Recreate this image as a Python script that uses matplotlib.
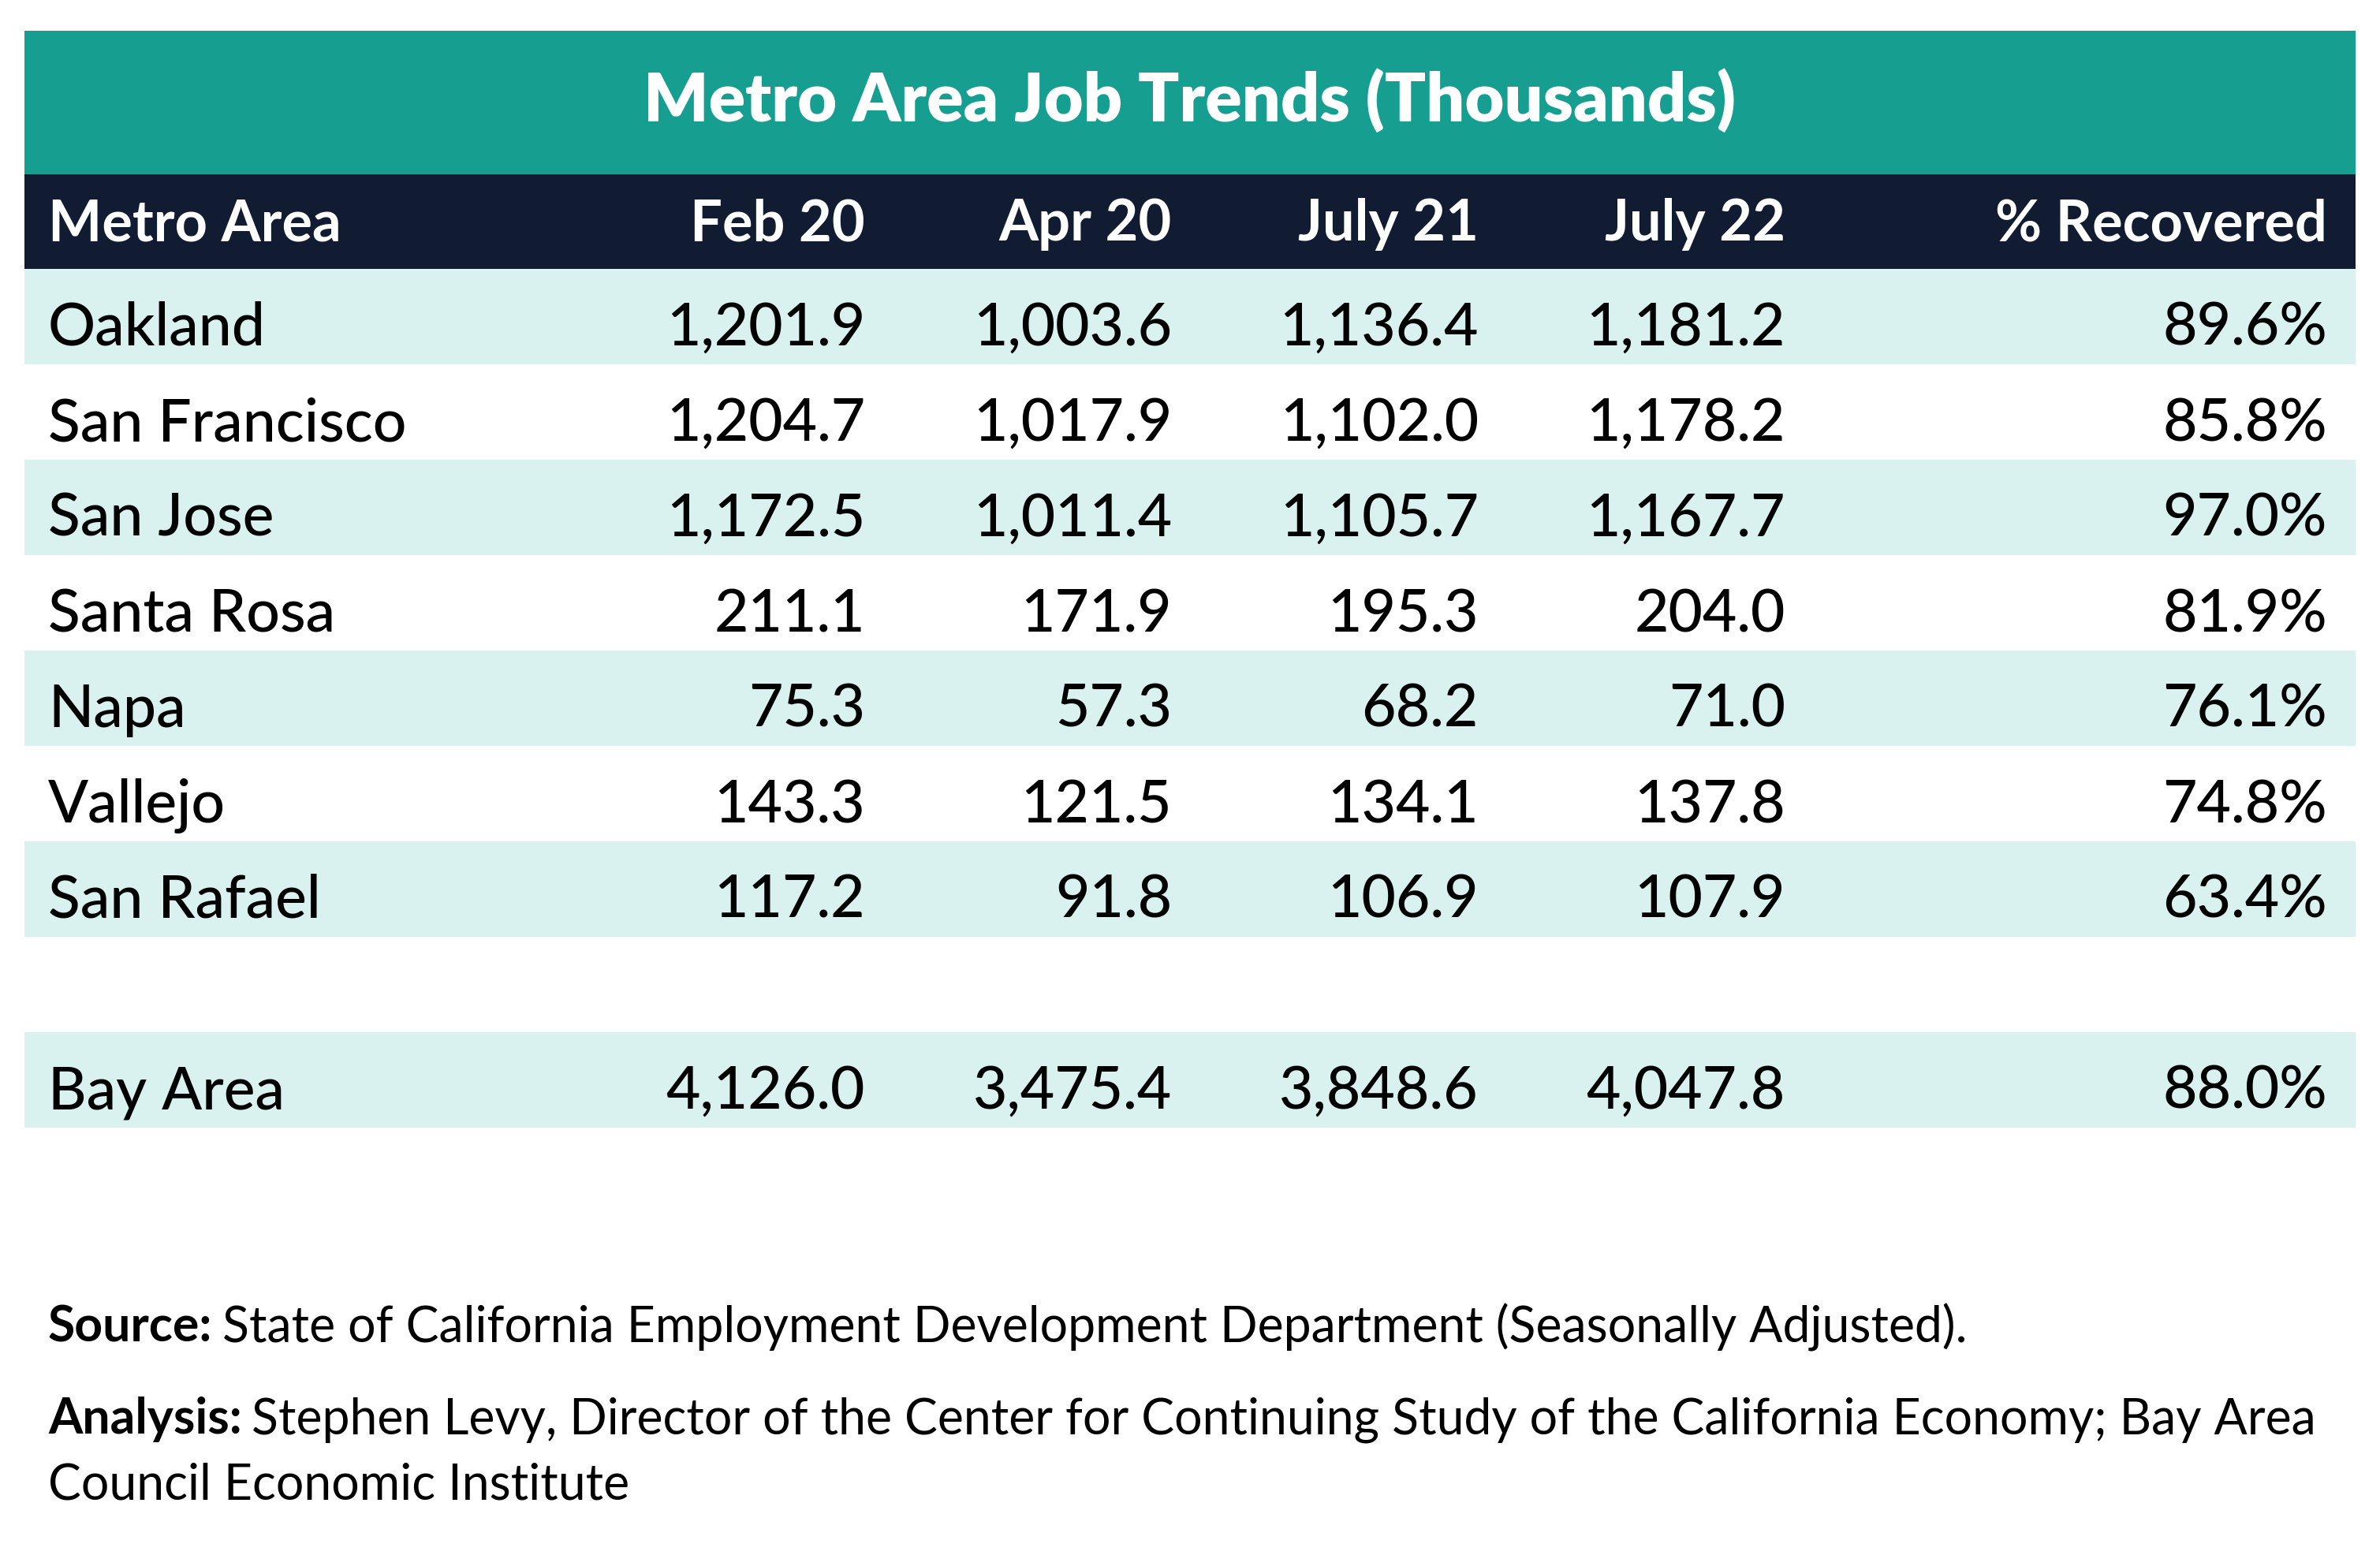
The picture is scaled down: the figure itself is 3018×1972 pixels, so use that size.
import matplotlib
matplotlib.use("Agg")
import matplotlib.pyplot as plt

# table data (thousands of jobs)
areas = ["Oakland", "San Francisco", "San Jose", "Santa Rosa", "Napa", "Vallejo", "San Rafael"]
feb20 = [1201.9, 1204.7, 1172.5, 211.1, 75.3, 143.3, 117.2]
apr20 = [1003.6, 1017.9, 1011.4, 171.9, 57.3, 121.5, 91.8]
jul21 = [1136.4, 1102.0, 1105.7, 195.3, 68.2, 134.1, 106.9]
jul22 = [1181.2, 1178.2, 1167.7, 204.0, 71.0, 137.8, 107.9]
recovered = [89.6, 85.8, 97.0, 81.9, 76.1, 74.8, 63.4]

total_name = "Bay Area"
total_vals = [4126.0, 3475.4, 3848.6, 4047.8]
total_recovered = 88.0

columns = ["Metro Area", "Feb 20", "Apr 20", "July 21", "July 22", "% Recovered"]
title = "Metro Area Job Trends (Thousands)"
source_txt = "State of California Employment Development Department (Seasonally Adjusted)."
analysis_txt = ["Stephen Levy, Director of the Center for Continuing Study of the California Economy; Bay Area",
                "Council Economic Institute"]

TEAL = "#169e91"
NAVY = "#111c32"
BAND = "#d9f2ef"
FONT = "Lato"

W, H = 3018, 1972
fig = plt.figure(figsize=(W / 200, H / 200), dpi=200)
ax = fig.add_axes([0, 0, 1, 1])
ax.set_xlim(0, W)
ax.set_ylim(H, 0)
ax.axis("off")

left, right = 31, 2987
row_h = 121
top_title, top_head = 39, 221
first_row = 341
col_right = [1097, 1486, 1875, 2264, 2951]
text_x = 61

ax.axhspan(top_title, top_head, xmin=left / W, xmax=right / W, color=TEAL, lw=0)
ax.axhspan(top_head, first_row, xmin=left / W, xmax=right / W, color=NAVY, lw=0)
ax.text(W / 2, 155, title, color="white", fontsize=31, fontweight="heavy",
        family=FONT, ha="center", va="baseline")

ax.text(text_x, 305, columns[0], color="white", fontsize=26, fontweight="bold",
        family=FONT, ha="left", va="baseline")
for x, c in zip(col_right, columns[1:]):
    ax.text(x, 305, c, color="white", fontsize=26, fontweight="bold",
            family=FONT, ha="right", va="baseline")

rows = [(a, [f, p, j1, j2], r) for a, f, p, j1, j2, r in
        zip(areas, feb20, apr20, jul21, jul22, recovered)]
rows.append(None)  # blank spacer row
rows.append((total_name, total_vals, total_recovered))

for i, row in enumerate(rows):
    y0 = first_row + i * row_h
    if i % 2 == 0 and row is not None:
        ax.axhspan(y0, y0 + row_h, xmin=left / W, xmax=right / W, color=BAND, lw=0)
    if row is None:
        continue
    name, vals, rec = row
    base = y0 + 97
    ax.text(text_x, base, name, fontsize=27, fontweight="medium", family=FONT,
            ha="left", va="baseline", color="black")
    for x, v in zip(col_right, vals):
        ax.text(x, base, f"{v:,.1f}", fontsize=27, fontweight="medium", family=FONT,
                ha="right", va="baseline", color="black")
    ax.text(col_right[-1], base, f"{rec:.1f}%", fontsize=27, fontweight="medium",
            family=FONT, ha="right", va="baseline", color="black")

# footer with bold lead words
fig.canvas.draw()
renderer = fig.canvas.get_renderer()
inv = ax.transData.inverted()


def lead_line(y, bold, rest):
    t = ax.text(text_x, y, bold, fontsize=22.5, fontweight="bold", family=FONT,
                ha="left", va="baseline", color="black")
    bb = t.get_window_extent(renderer)
    x_end = inv.transform((bb.x1, bb.y0))[0]
    ax.text(x_end + 12, y, rest, fontsize=22.5, family=FONT, ha="left",
            va="baseline", color="black")


lead_line(1702, "Source:", source_txt)
lead_line(1818, "Analysis:", analysis_txt[0])
ax.text(text_x, 1902, analysis_txt[1], fontsize=22.5, family=FONT, ha="left",
        va="baseline", color="black")

fig.savefig("out.png", dpi=200)
